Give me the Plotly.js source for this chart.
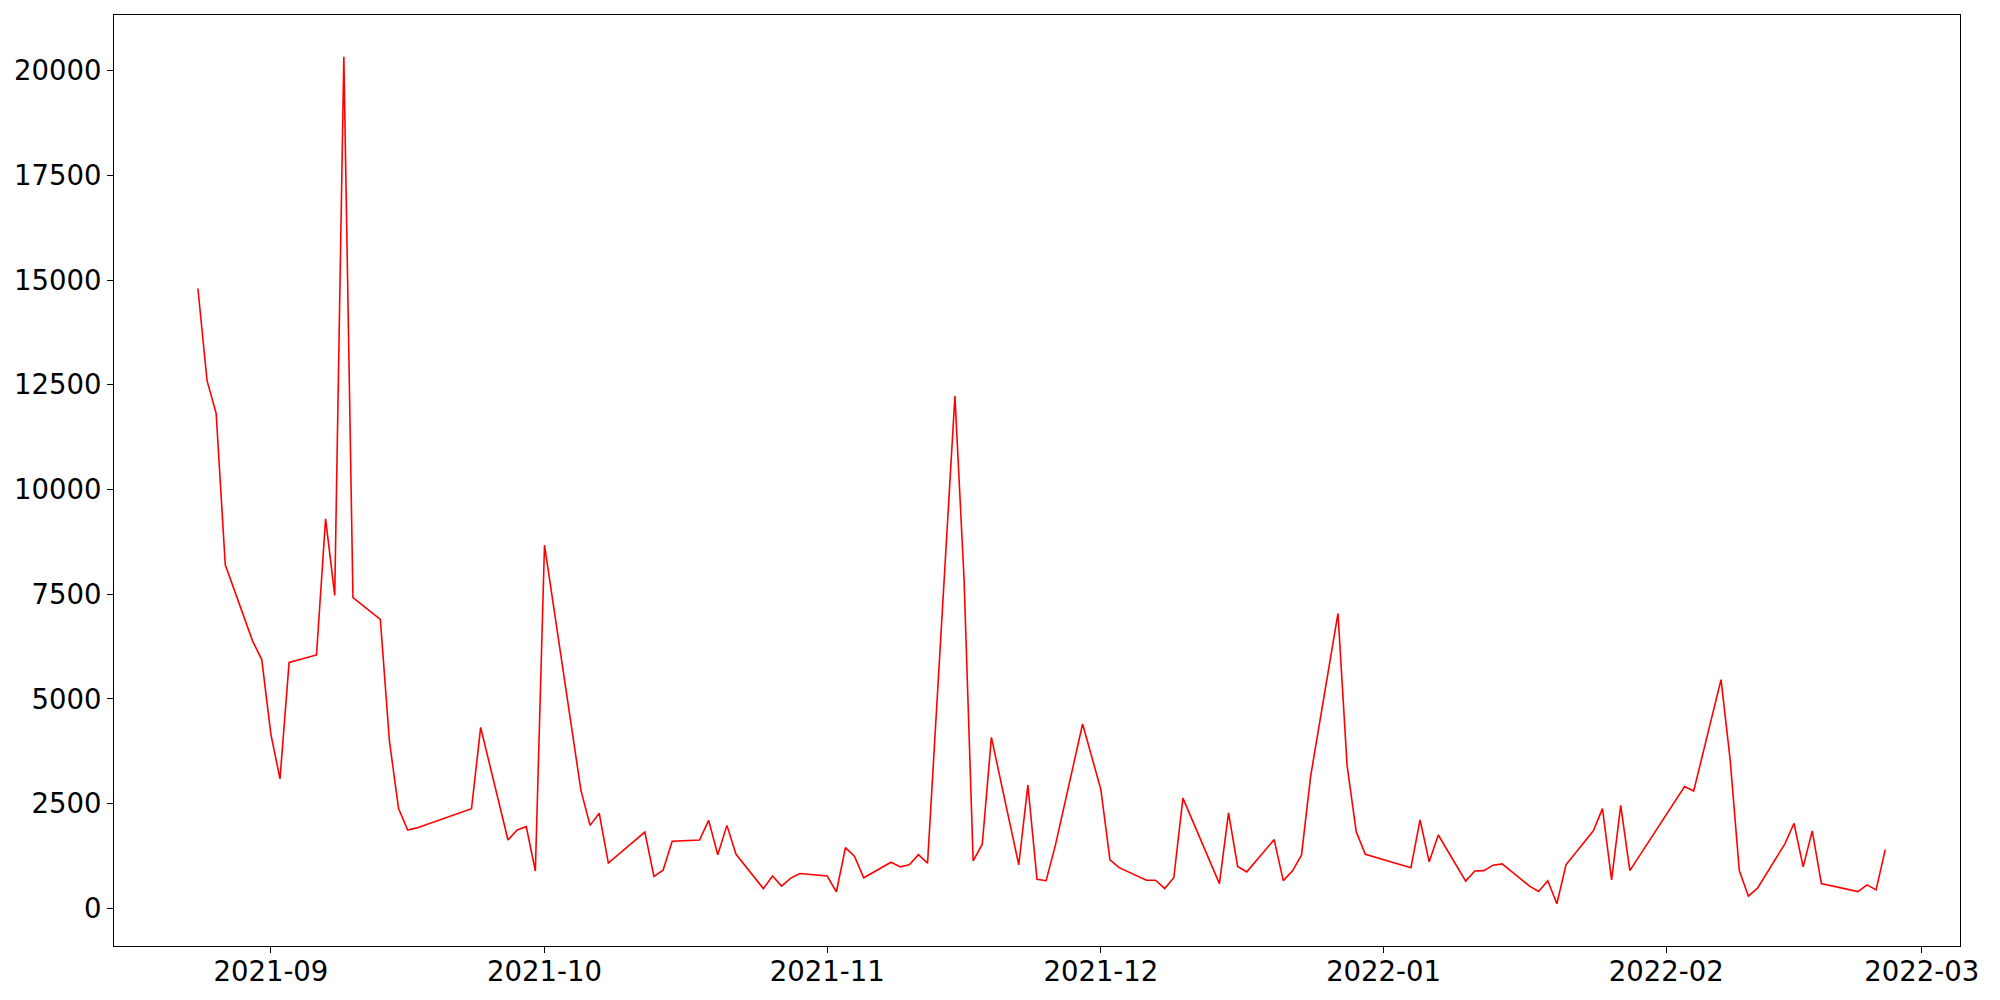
<!DOCTYPE html>
<html>
<head>
<meta charset="utf-8">
<script src="https://cdn.plot.ly/plotly-3.0.1.min.js"></script>
<style>
html, body { margin: 0; padding: 0; background: #ffffff; }
#chart { width: 2000px; height: 1000px; }
</style>
</head>
<body>
<div id="chart"></div>
<script>
const dates = [
'2021-08-24','2021-08-25','2021-08-26','2021-08-27','2021-08-30','2021-08-31',
'2021-09-01','2021-09-02','2021-09-03','2021-09-06','2021-09-07','2021-09-08','2021-09-09','2021-09-10',
'2021-09-13','2021-09-14','2021-09-15','2021-09-16','2021-09-17',
'2021-09-23','2021-09-24',
'2021-09-27','2021-09-28','2021-09-29','2021-09-30','2021-10-01',
'2021-10-05','2021-10-06','2021-10-07','2021-10-08',
'2021-10-12','2021-10-13','2021-10-14','2021-10-15',
'2021-10-18','2021-10-19','2021-10-20','2021-10-21','2021-10-22',
'2021-10-25','2021-10-26','2021-10-27','2021-10-28','2021-10-29',
'2021-11-01','2021-11-02','2021-11-03','2021-11-04','2021-11-05',
'2021-11-08','2021-11-09','2021-11-10','2021-11-11','2021-11-12',
'2021-11-15','2021-11-16','2021-11-17','2021-11-18','2021-11-19',
'2021-11-22','2021-11-23','2021-11-24','2021-11-25','2021-11-26',
'2021-11-29','2021-12-01','2021-12-02','2021-12-03',
'2021-12-06','2021-12-07','2021-12-08','2021-12-09','2021-12-10',
'2021-12-14','2021-12-15','2021-12-16','2021-12-17',
'2021-12-20','2021-12-21','2021-12-22','2021-12-23','2021-12-24',
'2021-12-27','2021-12-28','2021-12-29','2021-12-30',
'2022-01-04','2022-01-05','2022-01-06','2022-01-07',
'2022-01-10','2022-01-11','2022-01-12','2022-01-13','2022-01-14',
'2022-01-17','2022-01-18','2022-01-19','2022-01-20','2022-01-21',
'2022-01-24','2022-01-25','2022-01-26','2022-01-27','2022-01-28',
'2022-02-03','2022-02-04',
'2022-02-07','2022-02-08','2022-02-09','2022-02-10','2022-02-11',
'2022-02-14','2022-02-15','2022-02-16','2022-02-17','2022-02-18',
'2022-02-22','2022-02-23','2022-02-24','2022-02-25'
];

const values = [
14800, 12600, 11820, 8200, 6380, 5940,
4160, 3090, 5870, 6050, 9300, 7470, 20330, 7420,
6900, 3990, 2380, 1870, 1920,
2380, 4320,
1630, 1870, 1950, 890, 8670,
2810, 1980, 2270, 1080,
1820, 760, 910, 1600,
1630, 2100, 1280, 1980, 1290,
470, 770, 530, 720, 830,
770, 390, 1450, 1240, 730,
1100, 990, 1040, 1280, 1080,
12230, 7870, 1130, 1530, 4080,
1040, 2940, 690, 660, 1490,
4400, 2840, 1160, 970,
670, 670, 470, 730, 2630,
590, 2280, 1000, 870,
1640, 660, 890, 1270, 3150,
7040, 3410, 1830, 1290,
970, 2110, 1110, 1750,
650, 890, 900, 1030, 1060,
530, 400, 660, 110, 1040,
1850, 2380, 680, 2460, 900,
2910, 2800,
5460, 3550, 900, 290, 480,
1540, 2030, 990, 1850, 590,
400, 560, 440, 1400
];

const xTickVals = ['2021-09-01','2021-10-01','2021-11-01','2021-12-01','2022-01-01','2022-02-01','2022-03-01'];
const xTickText = ['2021-09','2021-10','2021-11','2021-12','2022-01','2022-02','2022-03'];
const yTickVals = [0, 2500, 5000, 7500, 10000, 12500, 15000, 17500, 20000];
const yTickText = ['0','2500','5000','7500','10000','12500','15000','17500','20000'];

const trace = {
  x: dates,
  y: values,
  type: 'scatter',
  mode: 'lines',
  line: { color: '#ff0000', width: 1.6 },
  hoverinfo: 'x+y'
};

const font = { family: '"DejaVu Sans", sans-serif', size: 27.5, color: '#000000' };

const layout = {
  width: 2000,
  height: 1000,
  paper_bgcolor: '#ffffff',
  plot_bgcolor: '#ffffff',
  showlegend: false,
  margin: { l: 114, r: 40, t: 15, b: 54, pad: 0, autoexpand: false },
  font: font,
  xaxis: {
    type: 'date',
    range: ['2021-08-14 19:12', '2022-03-05 04:48'],
    tickvals: xTickVals,
    ticktext: xTickText,
    ticks: 'outside',
    ticklen: 6,
    tickwidth: 1.1,
    tickcolor: '#000000',
    ticklabelstandoff: -5,
    showgrid: false,
    zeroline: false,
    showline: true,
    linecolor: '#000000',
    linewidth: 1.1,
    mirror: true,
    automargin: false,
    tickfont: font
  },
  yaxis: {
    range: [-900, 21330],
    tickvals: yTickVals,
    ticktext: yTickText,
    ticks: 'outside',
    ticklen: 6,
    tickwidth: 1.1,
    tickcolor: '#000000',
    showgrid: false,
    zeroline: false,
    showline: true,
    linecolor: '#000000',
    linewidth: 1.1,
    mirror: true,
    automargin: false,
    tickfont: font
  }
};

Plotly.newPlot('chart', [trace], layout, { staticPlot: true, displayModeBar: false });
</script>
</body>
</html>
